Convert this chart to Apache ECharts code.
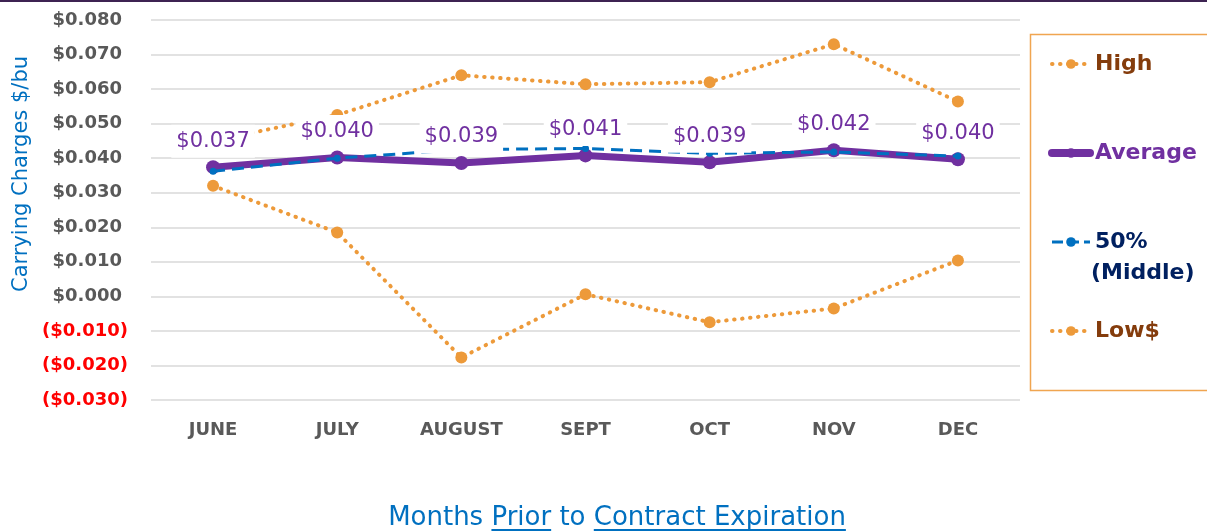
<!DOCTYPE html>
<html>
<head>
<meta charset="utf-8">
<script src="https://cdn.jsdelivr.net/npm/echarts@6/dist/echarts.min.js"></script>
<style>
  html, body { margin: 0; padding: 0; background: #fff; }
  #chart { width: 1207px; height: 531px; }
</style>
</head>
<body>
<div id="chart"></div>
<script>
// data
const months = ['JUNE', 'JULY', 'AUGUST', 'SEPT', 'OCT', 'NOV', 'DEC'];
const highVals = [0.045, 0.0525, 0.064, 0.0614, 0.062, 0.073, 0.0564];
const avgVals = [0.0374, 0.0402, 0.0386, 0.0408, 0.0388, 0.0423, 0.0397];
const midVals = [0.0362, 0.0400, 0.0425, 0.0428, 0.0414, 0.0418, 0.0406];
const lowVals = [0.032, 0.0185, -0.0177, 0.0006, -0.0075, -0.0035, 0.0104];
const seriesNames = ['High', 'Average', '50% (Middle)', 'Low$'];

const FONT = '"DejaVu Sans", sans-serif';
const ORANGE = '#ED9A3A';
const PURPLE = '#7030A0';
const BLUE = '#0070C0';
const DOTS = [0.5, 7.5];

// x axis title with underlined words
const titleParts = [
  { t: 'Months ', u: false },
  { t: 'Prior', u: true },
  { t: ' to ', u: false },
  { t: 'Contract Expiration', u: true }
];
const titleFont = '26px "DejaVu Sans"';
const cv = document.createElement('canvas').getContext('2d');
cv.font = titleFont;
let totalW = 0;
titleParts.forEach(p => { p.w = cv.measureText(p.t).width; totalW += p.w; });
let tx = 617 - totalW / 2;
const titleGraphics = [];
titleParts.forEach(p => {
  titleGraphics.push({
    type: 'text', x: tx, y: 518,
    style: { text: p.t, fill: BLUE, font: titleFont, verticalAlign: 'middle', align: 'left' }
  });
  if (p.u) {
    const ww = cv.measureText(p.t.trimEnd()).width;
    titleGraphics.push({
      type: 'rect', x: tx, y: 529, shape: { width: ww, height: 2 },
      style: { fill: BLUE }
    });
  }
  tx += p.w;
});

const chart = echarts.init(document.getElementById('chart'));

const option = {
  animation: false,
  backgroundColor: '#ffffff',
  grid: { left: 151, right: 187, top: 20, bottom: 131 },
  xAxis: {
    type: 'category',
    data: months,
    boundaryGap: true,
    axisLine: { show: false },
    axisTick: { show: false },
    axisLabel: { color: '#595959', fontFamily: FONT, fontWeight: 'bold', fontSize: 18, margin: 21 }
  },
  yAxis: {
    type: 'value',
    min: -0.03,
    max: 0.08,
    interval: 0.01,
    axisLine: { show: false },
    axisTick: { show: false },
    splitLine: { lineStyle: { color: '#d9d9d9', width: 1.5 } },
    axisLabel: {
      margin: 23,
      fontFamily: FONT,
      fontWeight: 'bold',
      fontSize: 18,
      formatter: function (v) {
        const r = Math.round(v * 1000) / 1000;
        if (r < 0) return '{n|($' + Math.abs(r).toFixed(3) + ')}';
        return '{p|$' + r.toFixed(3) + '}';
      },
      rich: {
        p: { color: '#595959', fontFamily: FONT, fontWeight: 'bold', fontSize: 18, padding: [0, 6, 0, 0] },
        n: { color: '#FF0000', fontFamily: FONT, fontWeight: 'bold', fontSize: 18 }
      }
    }
  },
  legend: {
    orient: 'vertical',
    left: 1048,
    top: 49,
    padding: 0,
    itemGap: 59,
    itemWidth: 38,
    itemHeight: 12,
    textStyle: { fontFamily: FONT, fontSize: 22, fontWeight: 'bold', lineHeight: 30 },
    formatter: function (name) { return name === '50% (Middle)' ? '50%' : name; },
    data: [
      { name: 'High', textStyle: { color: '#843C0C' },
        lineStyle: { width: 4, type: DOTS, cap: 'round' } },
      { name: 'Average', textStyle: { color: PURPLE },
        lineStyle: { width: 8, cap: 'round' } },
      { name: '50% (Middle)', textStyle: { color: '#002060' },
        lineStyle: { width: 3, type: [11, 5] } },
      { name: 'Low$', textStyle: { color: '#843C0C' },
        lineStyle: { width: 4, type: DOTS, cap: 'round' } }
    ]
  },
  graphic: [
    { type: 'rect', x: 0, y: 0, shape: { width: 1207, height: 2 }, style: { fill: '#3d2352' } },
    { type: 'rect', x: 1030.5, y: 34.5, shape: { width: 200, height: 356 },
      style: { fill: 'none', stroke: '#F0A550', lineWidth: 1.5 } },
    { type: 'text', x: 1091, y: 273,
      style: { text: '(Middle)', fill: '#002060', font: 'bold 22px "DejaVu Sans"', verticalAlign: 'middle' } },
    { type: 'text', x: 22, y: 174, rotation: Math.PI / 2,
      style: { text: 'Carrying Charges $/bu', fill: BLUE, font: '21px "DejaVu Sans"',
        align: 'center', verticalAlign: 'middle' } }
  ].concat(titleGraphics),
  series: [
    {
      name: seriesNames[0], type: 'line', data: highVals, z: 2,
      symbol: 'circle', symbolSize: 12,
      itemStyle: { color: ORANGE },
      lineStyle: { color: ORANGE, width: 4, type: DOTS, cap: 'round' }
    },
    {
      name: seriesNames[1], type: 'line', data: avgVals, z: 3,
      symbol: 'circle', symbolSize: 14,
      itemStyle: { color: PURPLE },
      lineStyle: { color: PURPLE, width: 7 }
    },
    {
      name: seriesNames[2], type: 'line', data: midVals, z: 4,
      symbol: 'circle', symbolSize: 7,
      itemStyle: { color: BLUE },
      lineStyle: { color: BLUE, width: 3, type: [12, 7] }
    },
    {
      name: seriesNames[3], type: 'line', data: lowVals, z: 2,
      symbol: 'circle', symbolSize: 12,
      itemStyle: { color: ORANGE },
      lineStyle: { color: ORANGE, width: 4, type: DOTS, cap: 'round' }
    },
    {
      // value labels for the Average series, on their own layer above the lines
      name: 'avgLabels', type: 'scatter', data: avgVals, z: 10, zlevel: 1,
      symbolSize: 1,
      itemStyle: { color: 'rgba(0,0,0,0)', opacity: 1 },
      silent: true,
      label: {
        show: true, position: 'top', distance: 9,
        formatter: function (p) { return '$' + p.value.toFixed(3); },
        color: PURPLE, fontFamily: FONT, fontSize: 21, opacity: 1,
        backgroundColor: '#ffffff', padding: [6, 5]
      }
    }
  ]
};

chart.setOption(option);
</script>
</body>
</html>
